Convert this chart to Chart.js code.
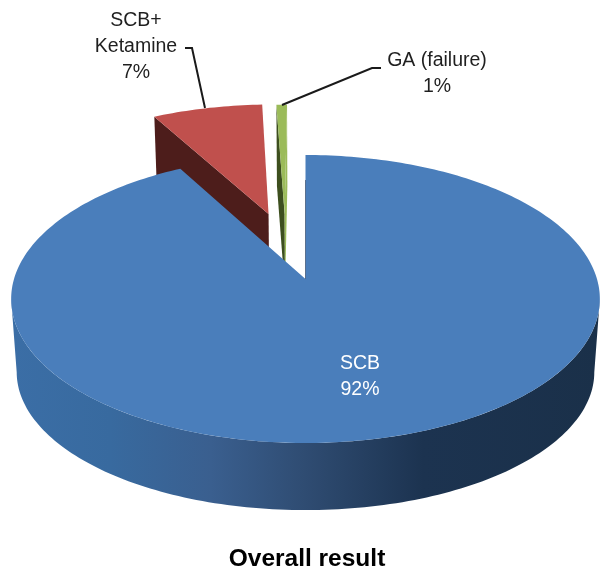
<!DOCTYPE html>
<html>
<head>
<meta charset="utf-8">
<title>Overall result</title>
<script src="https://cdn.jsdelivr.net/npm/chart.js@4"></script>
<style>
  html, body { margin: 0; padding: 0; background: #fff; }
  canvas { display: block; }
</style>
</head>
<body>
<canvas id="pieChart" width="600" height="570"></canvas>
<script>
const categories = ["SCB", "SCB+ Ketamine", "GA (failure)"];
// slice sizes as drawn, the printed labels round them to 92 / 7 / 1
const sliceValues = [92, 7.3, 0.7];
const labelLines = [["SCB"], ["SCB+", "Ketamine"], ["GA (failure)"]];
const faceColors = ["#4a7ebb", "#c0504d", "#9bbb59"];
const sideColors = ["rgba(30,50,80,0.55)", "#4d1d1b", "#3d4f1e"];

const chartTitle = "Overall result";
const labelFont = '19.5px "Liberation Sans", Arial, sans-serif';

// the flat pie is projected on two planes, the top face and the bottom of the wall
const topPlane = { cx: 305.5, cy: 279, rx: 291.5, ry: 141.2, persp: 0.1389 };
const lowPlane = { cx: 305.5, cy: 353, rx: 286, ry: 135.3, persp: 0.1389 };

// explode offsets in units of the pie radius
const explodeU = [0, -0.1354, -0.0765];
const explodeV = [0, -0.4918, -0.49];

const labelPos = [
  { x: 360, y: 369, color: "#ffffff" },
  { x: 136, y: 26, color: "#1f1f1f" },
  { x: 437, y: 66, color: "#1f1f1f" },
];
const leaders = [
  null,
  [[205, 108], [192, 48], [185, 48]],
  [[282, 105], [372, 68], [381, 68]],
];

function project(plane, u, v) {
  const w = 1 - plane.persp * v;
  return [plane.cx + (plane.rx * u) / w, plane.cy + (plane.ry * v) / w];
}

function rimPoints(plane, i, from, to) {
  const steps = Math.max(2, Math.ceil(Math.abs(to - from) / 0.02));
  const pts = [];
  for (let s = 0; s <= steps; s++) {
    const a = from + ((to - from) * s) / steps;
    pts.push(project(plane, explodeU[i] + Math.cos(a), explodeV[i] + Math.sin(a)));
  }
  return pts;
}

function fillPoly(ctx, pts, color) {
  ctx.beginPath();
  pts.forEach((p, n) => (n === 0 ? ctx.moveTo(p[0], p[1]) : ctx.lineTo(p[0], p[1])));
  ctx.closePath();
  ctx.fillStyle = color;
  ctx.fill();
}

function radialFace(ctx, i, angle, color) {
  const a = rimPoints(topPlane, i, angle, angle)[0];
  const b = rimPoints(lowPlane, i, angle, angle)[0];
  const c = project(lowPlane, explodeU[i], explodeV[i]);
  const d = project(topPlane, explodeU[i], explodeV[i]);
  fillPoly(ctx, [a, b, c, d], color);
}

function topFace(ctx, i, arc, color) {
  const apex = project(topPlane, explodeU[i], explodeV[i]);
  fillPoly(ctx, [apex].concat(rimPoints(topPlane, i, arc.startAngle, arc.endAngle)), color);
}

const pie3d = {
  id: "pie3d",
  beforeDatasetsDraw(chart) {
    const ctx = chart.ctx;
    const arcs = chart.getDatasetMeta(0).data;

    // back slices first, the big one covers their lower part
    const green = arcs[2];
    radialFace(ctx, 2, green.startAngle, sideColors[2]);
    radialFace(ctx, 2, green.endAngle, faceColors[2]);
    topFace(ctx, 2, green, faceColors[2]);

    const red = arcs[1];
    radialFace(ctx, 1, red.startAngle, sideColors[1]);
    topFace(ctx, 1, red, faceColors[1]);

    const wallGrad = ctx.createLinearGradient(10, 0, 600, 0);
    wallGrad.addColorStop(0, "#3b6ea6");
    wallGrad.addColorStop(0.17, "#386a9f");
    wallGrad.addColorStop(0.34, "#3a5f8f");
    wallGrad.addColorStop(0.5, "#2f4c72");
    wallGrad.addColorStop(0.7, "#1c3350");
    wallGrad.addColorStop(1, "#1a3049");
    // wall runs between the two points where the rim turns back
    const turn = Math.asin(topPlane.persp);
    const wallTop = rimPoints(topPlane, 0, turn, Math.PI - turn);
    const wallLow = rimPoints(lowPlane, 0, Math.PI - turn, turn);
    fillPoly(ctx, wallTop.concat(wallLow), wallGrad);
    topFace(ctx, 0, arcs[0], faceColors[0]);

    // thin shaded edge of the cut along the big slice
    const cutRim = rimPoints(topPlane, 0, arcs[0].startAngle, arcs[0].startAngle)[0];
    const cutApex = project(topPlane, 0, 0);
    ctx.beginPath();
    ctx.moveTo(cutRim[0], cutRim[1] + 25);
    ctx.lineTo(cutApex[0], cutApex[1]);
    ctx.strokeStyle = sideColors[0];
    ctx.lineWidth = 1;
    ctx.stroke();

    return false;
  },
  afterDraw(chart) {
    const ctx = chart.ctx;
    ctx.save();
    ctx.strokeStyle = "#1a1a1a";
    ctx.lineWidth = 2;
    leaders.forEach((line) => {
      if (!line) return;
      ctx.beginPath();
      line.forEach((p, n) => (n === 0 ? ctx.moveTo(p[0], p[1]) : ctx.lineTo(p[0], p[1])));
      ctx.stroke();
    });

    ctx.font = labelFont;
    ctx.textAlign = "center";
    ctx.textBaseline = "alphabetic";
    labelLines.forEach((lines, i) => {
      ctx.fillStyle = labelPos[i].color;
      lines.concat(Math.round(sliceValues[i]) + "%").forEach((text, n) => {
        ctx.fillText(text, labelPos[i].x, labelPos[i].y + n * 26);
      });
    });
    ctx.restore();
  },
};

new Chart(document.getElementById("pieChart"), {
  type: "pie",
  data: {
    labels: categories,
    datasets: [{ data: sliceValues, backgroundColor: faceColors, borderWidth: 0 }],
  },
  options: {
    responsive: false,
    animation: false,
    layout: { padding: { left: 14 } },
    plugins: {
      legend: { display: false },
      tooltip: { enabled: false },
      title: {
        display: true,
        text: chartTitle,
        position: "bottom",
        color: "#000000",
        font: { family: '"Liberation Sans", Arial, sans-serif', size: 24.5, weight: "bold" },
        padding: { top: 4, bottom: -4 },
      },
    },
  },
  plugins: [pie3d],
});
</script>
</body>
</html>
